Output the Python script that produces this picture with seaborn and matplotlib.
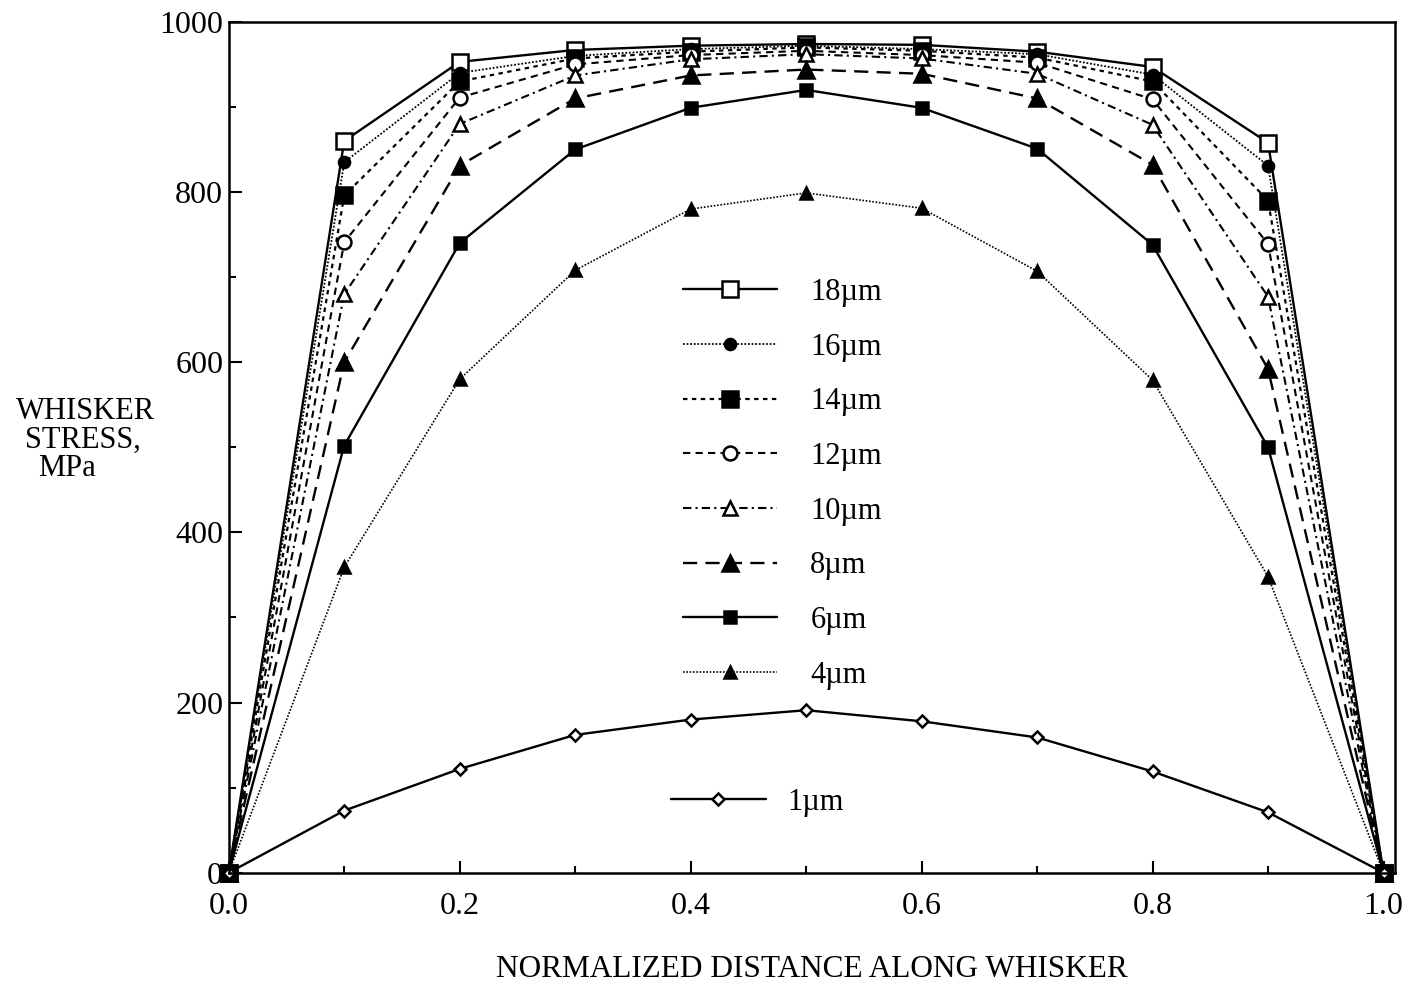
import numpy as np
import pandas as pd
import matplotlib
matplotlib.use("Agg")
import matplotlib.pyplot as plt
from matplotlib.ticker import MultipleLocator
import seaborn as sns

# ── Data ──────────────────────────────────────────────────────────────────
DIST = [0.0, 0.1, 0.2, 0.3, 0.4, 0.5, 0.6, 0.7, 0.8, 0.9, 1.0]
S18 = [0, 860, 953, 967, 972, 974, 973, 965, 947, 858, 0]
S16 = [0, 835, 940, 960, 968, 972, 968, 962, 938, 831, 0]
S14 = [0, 796, 930, 957, 965, 970, 966, 958, 930, 790, 0]
S12 = [0, 741, 911, 950, 961, 966, 961, 952, 909, 739, 0]
S10 = [0, 680, 880, 937, 956, 962, 957, 939, 879, 677, 0]
S8 = [0, 600, 831, 910, 937, 944, 939, 910, 832, 592, 0]
S6 = [0, 502, 740, 850, 899, 920, 899, 851, 738, 500, 0]
S4 = [0, 359, 580, 708, 780, 799, 781, 707, 579, 348, 0]
S1 = [0, 73, 122, 162, 180, 191, 178, 159, 119, 71, 0]
LABELS = ["18\u00b5m", "16\u00b5m", "14\u00b5m", "12\u00b5m", "10\u00b5m",
          "8\u00b5m", "6\u00b5m", "4\u00b5m", "1\u00b5m"]
SERIES = [S18, S16, S14, S12, S10, S8, S6, S4, S1]

# ── Styles per series: linestyle, marker, size, filled, linewidth ─────────
STYLES = [
    ("-",              "s", 12, False, 1.7),
    ((0, (1, 1)),      "o", 8,  True,  1.3),
    ((0, (2, 2)),      "s", 11, True,  1.6),
    ((0, (3.5, 2.5)),  "o", 10, False, 1.5),
    ((0, (4, 2, 1, 2)), "^", 10, False, 1.5),
    ((0, (6, 3.5)),    "^", 11, True,  1.7),
    ("-",              "s", 8,  True,  1.7),
    ((0, (1, 1)),      "^", 8,  True,  1.2),
    ("-",              "D", 6,  False, 1.7),
]

sns.set_theme(style="ticks")
plt.rcParams["font.family"] = ["Liberation Serif", "DejaVu Serif"]
plt.rcParams["text.color"] = "black"
plt.rcParams["axes.labelcolor"] = "black"

fig = plt.figure(figsize=(14.12, 9.94), dpi=100)
ax = fig.add_axes([0.162, 0.122, 0.826, 0.856])

handles = []
for lbl, vals, (ls, mk, ms, filled, lw) in zip(LABELS, SERIES, STYLES):
    sub = pd.DataFrame({"dist": DIST, "stress": vals})
    sns.lineplot(data=sub, x="dist", y="stress", ax=ax, color="black",
                 linestyle=ls, linewidth=lw, marker=mk, markersize=ms,
                 markerfacecolor="black" if filled else "white",
                 markeredgecolor="black", markeredgewidth=1.8,
                 label=lbl, clip_on=False, legend=False)
    handles.append(ax.lines[-1])

ax.set_xlim(0, 1.01)
ax.set_ylim(0, 1000)
ax.xaxis.set_major_locator(MultipleLocator(0.2))
ax.xaxis.set_minor_locator(MultipleLocator(0.1))
ax.yaxis.set_major_locator(MultipleLocator(200))
ax.yaxis.set_minor_locator(MultipleLocator(100))
ax.xaxis.set_major_formatter(matplotlib.ticker.FormatStrFormatter("%.1f"))
ax.tick_params(which="both", direction="in", top=False, right=False,
               width=1.5, labelsize=23, colors="black")
ax.tick_params(which="major", length=9)
ax.tick_params(which="minor", length=5)
ax.tick_params(axis="x", which="major", pad=14)
ax.tick_params(axis="y", which="major", pad=4)
for sp in ax.spines.values():
    sp.set_visible(True)
    sp.set_linewidth(1.8)
    sp.set_color("black")

ax.set_xlabel("NORMALIZED DISTANCE ALONG WHISKER", fontsize=22.5,
              labelpad=24, color="black")
ax.set_ylabel("")

# y label written as three left-side lines
fig.text(0.011, 0.586, "WHISKER", fontsize=22, ha="left", va="center")
fig.text(0.018, 0.557, "STRESS,", fontsize=22, ha="left", va="center")
fig.text(0.027, 0.529, "MPa", fontsize=22, ha="left", va="center")

# legend: eight entries in a column, 1µm set apart below
leg1 = ax.legend(handles[:8], LABELS[:8], loc="upper left",
                 bbox_to_anchor=(0.376, 0.717), frameon=False, fontsize=22,
                 handlelength=3.1, handletextpad=1.08, labelspacing=0.84,
                 borderpad=0)
for t in leg1.get_texts():
    t.set_color("black")
ax.add_artist(leg1)
leg2 = ax.legend(handles[8:], LABELS[8:], loc="upper left",
                 bbox_to_anchor=(0.366, 0.118), frameon=False, fontsize=22,
                 handlelength=3.1, handletextpad=0.7, borderpad=0)
for t in leg2.get_texts():
    t.set_color("black")

plt.savefig("out.png", dpi=100)
plt.close()
